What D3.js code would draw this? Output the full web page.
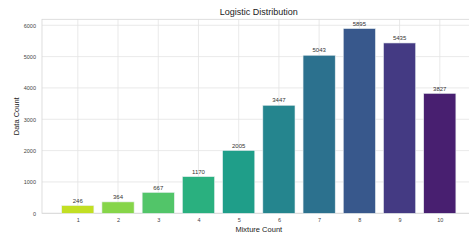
<!DOCTYPE html>
<html>
<head>
<meta charset="utf-8">
<script src="https://cdn.jsdelivr.net/npm/d3@7"></script>
<style>
  body { margin: 0; background: #fff; }
  text { font-family: "Liberation Sans", Arial, sans-serif; }
</style>
</head>
<body>
<div id="chart"></div>
<script>
// chart data
var mixtureCounts = [1, 2, 3, 4, 5, 6, 7, 8, 9, 10];
var dataCounts = [246, 364, 667, 1170, 2005, 3447, 5043, 5895, 5435, 3827];
var barColors = ["#c2df23", "#86d549", "#52c569", "#2ab07f", "#1f9e89",
                 "#25858e", "#2c718e", "#38588c", "#443a83", "#481f70"];
var yTicks = [0, 1000, 2000, 3000, 4000, 5000, 6000];

var svgWidth = 469;
var svgHeight = 240;

var chartMargin = { top: 19.3, left: 42 };
var width = 433.6;
var height = 194;

var svg = d3.select("#chart")
  .append("svg")
  .attr("width", svgWidth)
  .attr("height", svgHeight);

var chartGroup = svg.append("g")
  .attr("transform", `translate(${chartMargin.left}, ${chartMargin.top})`);

var xScale = d3.scaleLinear()
  .domain([0.11, 10.89])
  .range([0, width]);

var yScale = d3.scaleLinear()
  .domain([0, 6190])
  .range([height, 0]);

// gridlines
chartGroup.selectAll(".hgrid")
  .data(yTicks)
  .enter()
  .append("line")
  .attr("x1", 0)
  .attr("x2", width)
  .attr("y1", d => yScale(d))
  .attr("y2", d => yScale(d))
  .attr("stroke", "#e3e3e3")
  .attr("stroke-width", 0.8);

chartGroup.selectAll(".vgrid")
  .data(mixtureCounts)
  .enter()
  .append("line")
  .attr("x1", d => xScale(d))
  .attr("x2", d => xScale(d))
  .attr("y1", 0)
  .attr("y2", height)
  .attr("stroke", "#e3e3e3")
  .attr("stroke-width", 0.8);

// axes (labels only, no tick marks)
var leftAxis = d3.axisLeft(yScale).tickValues(yTicks).tickFormat(d3.format("d"))
  .tickSize(0).tickPadding(6);
var bottomAxis = d3.axisBottom(xScale).tickValues(mixtureCounts).tickFormat(d3.format("d"))
  .tickSize(0).tickPadding(5);

var yAxisG = chartGroup.append("g").call(leftAxis);
var xAxisG = chartGroup.append("g")
  .attr("transform", `translate(0, ${height})`)
  .call(bottomAxis);

[yAxisG, xAxisG].forEach(function(g) {
  g.select(".domain").remove();
  g.selectAll("text")
    .attr("fill", "#444")
    .style("font-size", "5.5px")
    .style("font-family", "Liberation Sans, Arial, sans-serif");
});

// spines
chartGroup.append("rect")
  .attr("x", 0)
  .attr("y", 0)
  .attr("width", width)
  .attr("height", height)
  .attr("fill", "none")
  .attr("stroke", "#d6d6d6")
  .attr("stroke-width", 0.8);

// bars
var barW = xScale(1.8) - xScale(1);
chartGroup.selectAll(".bar")
  .data(mixtureCounts)
  .enter()
  .append("rect")
  .attr("x", d => xScale(d) - barW / 2)
  .attr("y", (d, i) => yScale(dataCounts[i]))
  .attr("width", barW)
  .attr("height", (d, i) => height - yScale(dataCounts[i]))
  .attr("fill", (d, i) => barColors[i])
  .attr("stroke", "#e8eef0")
  .attr("stroke-width", 0.6);

// value labels
chartGroup.selectAll(".valueLabel")
  .data(mixtureCounts)
  .enter()
  .append("text")
  .attr("x", d => xScale(d))
  .attr("y", (d, i) => yScale(dataCounts[i]) - 2.8)
  .attr("text-anchor", "middle")
  .attr("fill", "#333")
  .style("font-size", "6px")
  .text((d, i) => dataCounts[i]);

// title and axis labels
chartGroup.append("text")
  .attr("x", width / 2)
  .attr("y", -4)
  .attr("text-anchor", "middle")
  .attr("fill", "#222")
  .style("font-size", "9px")
  .text("Logistic Distribution");

chartGroup.append("text")
  .attr("x", width / 2)
  .attr("y", height + 18.5)
  .attr("text-anchor", "middle")
  .attr("fill", "#222")
  .style("font-size", "7.5px")
  .text("Mixture Count");

chartGroup.append("text")
  .attr("transform", "rotate(-90)")
  .attr("x", -height / 2)
  .attr("y", -23.5)
  .attr("text-anchor", "middle")
  .attr("fill", "#222")
  .style("font-size", "7.5px")
  .text("Data Count");
</script>
</body>
</html>
